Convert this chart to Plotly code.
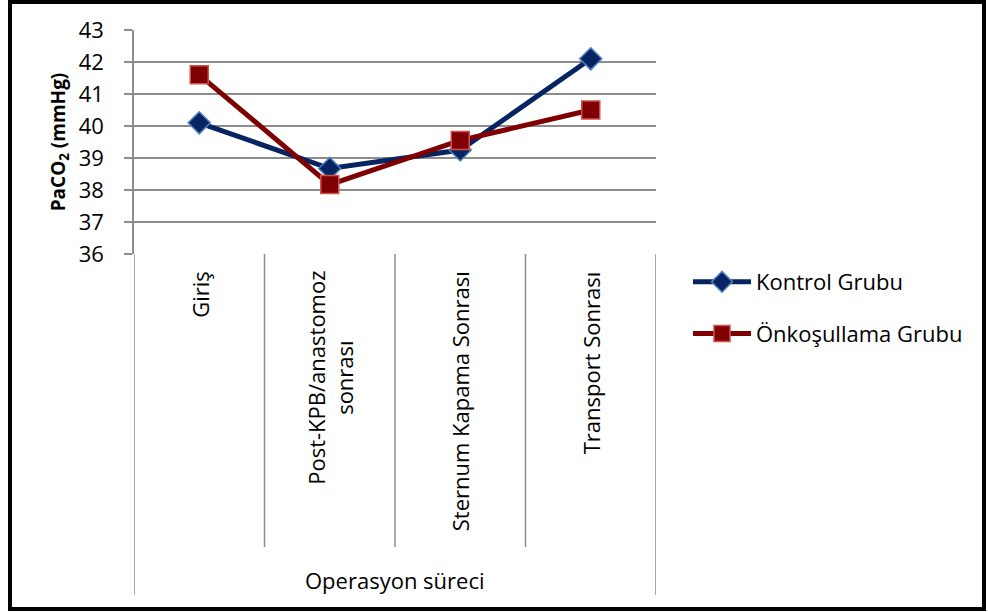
import plotly.graph_objects as go

# Operation stages (x categories) and mean PaCO2 values per group
stages = ["Giriş", "Post-KPB/anastomoz<br>sonrası", "Sternum Kapama Sonrası", "Transport Sonrası"]
kontrol = [40.1, 38.67, 39.25, 42.1]
onkosullama = [41.6, 38.17, 39.55, 40.5]
y_ticks = [36, 37, 38, 39, 40, 41, 42, 43]

FONT = "Open Sans"
GRID = "#8c8c8c"
TXT = 22

fig = go.Figure()
fig.add_trace(go.Scatter(
    x=stages, y=kontrol, name="Kontrol Grubu", mode="lines+markers",
    legendgroup="k",
    line=dict(color="#062461", width=5),
    marker=dict(symbol="diamond", size=17, color="#062461",
                line=dict(color="#4f81bd", width=1.5)),
))
fig.add_trace(go.Scatter(
    x=stages, y=onkosullama, name="Önkoşullama Grubu", mode="lines+markers",
    legendgroup="o",
    line=dict(color="#7f0000", width=5),
    marker=dict(symbol="square", size=18, color="#7f0000",
                line=dict(color="#d0504d", width=1.5)),
))

# plot-area geometry in pixels (used to express helper shapes in paper units)
L, R, T, B, W, H = 134, 332, 30, 358, 988, 612
pw, ph = W - L - R, H - T - B


def px_x(px):
    return (px - L) / pw


def px_y(py):
    return (H - B - py) / ph


shapes = []
# category separators below the axis
for i in range(len(stages) + 1):
    xb = i - 0.5
    outer = i in (0, len(stages))
    shapes.append(dict(type="line", xref="x", yref="paper",
                       x0=xb, x1=xb, y0=0, y1=px_y(595 if outer else 547),
                       line=dict(color=GRID, width=1.5)))
# chart frame
shapes.append(dict(type="rect", xref="paper", yref="paper",
                   x0=px_x(10), x1=px_x(984), y0=px_y(609), y1=px_y(2),
                   line=dict(color="black", width=4)))

annotations = []
for i, s in enumerate(stages):
    annotations.append(dict(x=i, y=px_y(269), xref="x", yref="paper", text=s,
                            textangle=-90, showarrow=False, xanchor="center",
                            yanchor="top", align="center",
                            font=dict(family=FONT, size=TXT, color="black")))
annotations.append(dict(x=0.5, y=px_y(580), xref="paper", yref="paper",
                        text="Operasyon süreci", showarrow=False,
                        xanchor="center", yanchor="middle",
                        font=dict(family=FONT, size=TXT, color="black")))

fig.update_layout(
    width=W, height=H,
    margin=dict(l=L, r=R, t=T, b=B),
    paper_bgcolor="white", plot_bgcolor="white",
    font=dict(family=FONT, size=TXT, color="black"),
    shapes=shapes, annotations=annotations,
    showlegend=True,
    legend=dict(x=px_x(688), y=px_y(261), xanchor="left", yanchor="top",
                traceorder="grouped", tracegroupgap=20, itemwidth=58,
                font=dict(family=FONT, size=TXT, color="black"),
                bgcolor="rgba(0,0,0,0)"),
)
fig.update_xaxes(type="category", range=[-0.5, len(stages) - 0.5],
                 showticklabels=False, showgrid=False, zeroline=False,
                 showline=False, ticks="")
fig.update_yaxes(range=[36, 43], tickvals=y_ticks, showgrid=True,
                 gridcolor=GRID, gridwidth=1.5, zeroline=False,
                 showline=True, linecolor=GRID, linewidth=1.5,
                 ticks="outside", ticklen=8, tickcolor=GRID, tickwidth=1.5,
                 ticklabelstandoff=16,
                 tickfont=dict(family=FONT, size=TXT, color="black"),
                 title=dict(text="<b>PaCO<sub>2</sub> (mmHg)</b>", standoff=8,
                            font=dict(family=FONT, size=19, color="black")))

fig.write_html("out.html")
